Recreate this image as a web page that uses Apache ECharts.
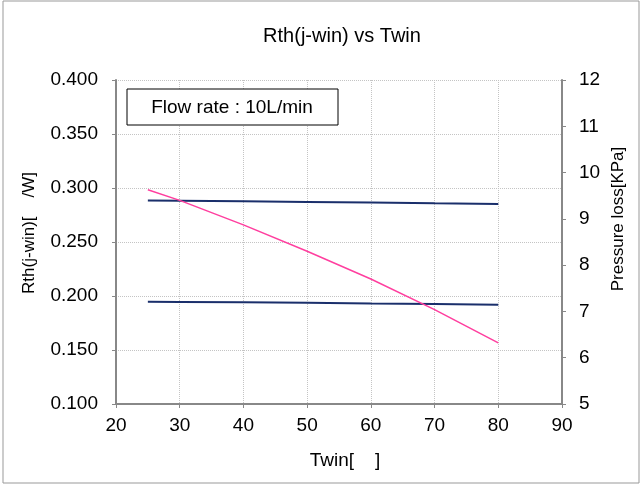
<!DOCTYPE html>
<html>
<head>
<meta charset="utf-8">
<script src="https://cdn.jsdelivr.net/npm/echarts@6/dist/echarts.min.js"></script>
<style>
  html, body { margin: 0; padding: 0; background: #fff; }
  #main { width: 642px; height: 486px; }
</style>
</head>
<body>
<div id="main"></div>
<script>
var myChart = echarts.init(document.getElementById('main'));

// data
var twin = [25, 30, 40, 50, 60, 70, 80];
var rthUpper = [0.2885, 0.2882, 0.2877, 0.2871, 0.2865, 0.2858, 0.2852];
var rthLower = [0.1947, 0.1945, 0.1941, 0.1937, 0.1931, 0.1926, 0.1920];
var pressureLoss = [9.63, 9.40, 8.87, 8.30, 7.70, 7.04, 6.32];

var font = 'Liberation Sans';
var axisGray = '#888888';
var gridStyle = { color: '#c4c4c4', type: 'dotted' };

function pairs(xs, ys) {
	return xs.map(function(x, i) { return [x, ys[i]]; });
}

var option = {
	backgroundColor: '#fff',
	textStyle: { fontFamily: font },
	title: {
		text: 'Rth(j-win) vs Twin',
		left: 337,
		top: 21,
		textAlign: 'center',
		textStyle: { fontFamily: font, fontSize: 20, fontWeight: 'normal', color: '#000' }
	},
	grid: {
		left: 116,
		right: 80,
		top: 80,
		bottom: 82
	},
	xAxis: {
		type: 'value',
		min: 20,
		max: 90,
		interval: 10,
		axisLine: { lineStyle: { color: axisGray, width: 2 } },
		axisTick: { length: 4, lineStyle: { color: axisGray } },
		axisLabel: { fontFamily: font, fontSize: 19, color: '#000', margin: 12 },
		splitLine: { show: true, lineStyle: gridStyle }
	},
	yAxis: [{
			type: 'value',
			min: 0.1,
			max: 0.4,
			interval: 0.05,
			axisLine: { show: true, lineStyle: { color: axisGray, width: 2 } },
			axisTick: { show: true, length: 4, lineStyle: { color: axisGray } },
			axisLabel: {
				fontFamily: font, fontSize: 19, color: '#000', margin: 18,
				formatter: function(v) { return v.toFixed(3); }
			},
			splitLine: { show: true, lineStyle: gridStyle }
		},
		{
			type: 'value',
			min: 5,
			max: 12,
			interval: 1,
			axisLine: { show: true, lineStyle: { color: axisGray, width: 2 } },
			axisTick: { show: true, length: 4, lineStyle: { color: axisGray } },
			axisLabel: { fontFamily: font, fontSize: 19, color: '#000', margin: 17 },
			splitLine: { show: false }
		}
	],
	graphic: [{
			type: 'rect',
			shape: { x: 3, y: 1, width: 636, height: 482 },
			style: { fill: null, stroke: '#999', lineWidth: 1 },
			silent: true
		},
		{
			type: 'rect',
			shape: { x: 127, y: 89, width: 211, height: 36 },
			style: { fill: '#fff', stroke: '#000', lineWidth: 1 },
			z: 100
		},
		{
			type: 'text',
			x: 232,
			y: 108,
			style: {
				text: 'Flow rate : 10L/min',
				fontFamily: font, fontSize: 19, fill: '#000',
				textAlign: 'center', textVerticalAlign: 'middle'
			},
			z: 101
		},
		{
			// left axis name
			type: 'text',
			x: 29,
			y: 233,
			rotation: Math.PI / 2,
			style: {
				text: 'Rth(j-win)[    /W]',
				fontFamily: font, fontSize: 17, fill: '#000',
				textAlign: 'center', textVerticalAlign: 'middle'
			}
		},
		{
			// right axis name
			type: 'text',
			x: 618,
			y: 219,
			rotation: Math.PI / 2,
			style: {
				text: 'Pressure loss[KPa]',
				fontFamily: font, fontSize: 17, fill: '#000',
				textAlign: 'center', textVerticalAlign: 'middle'
			}
		},
		{
			// x axis name
			type: 'text',
			x: 345,
			y: 461,
			style: {
				text: 'Twin[    ]',
				fontFamily: font, fontSize: 19, fill: '#000',
				textAlign: 'center', textVerticalAlign: 'middle'
			}
		}
	],
	series: [{
			name: 'Rth upper',
			type: 'line',
			yAxisIndex: 0,
			showSymbol: false,
			lineStyle: { color: '#1a2f6b', width: 2 },
			data: pairs(twin, rthUpper)
		},
		{
			name: 'Rth lower',
			type: 'line',
			yAxisIndex: 0,
			showSymbol: false,
			lineStyle: { color: '#1a2f6b', width: 2 },
			data: pairs(twin, rthLower)
		},
		{
			name: 'Pressure loss',
			type: 'line',
			yAxisIndex: 1,
			showSymbol: false,
			lineStyle: { color: '#ff3f9f', width: 1.5 },
			data: pairs(twin, pressureLoss)
		}
	],
	animation: false
};

myChart.setOption(option);
</script>
</body>
</html>
